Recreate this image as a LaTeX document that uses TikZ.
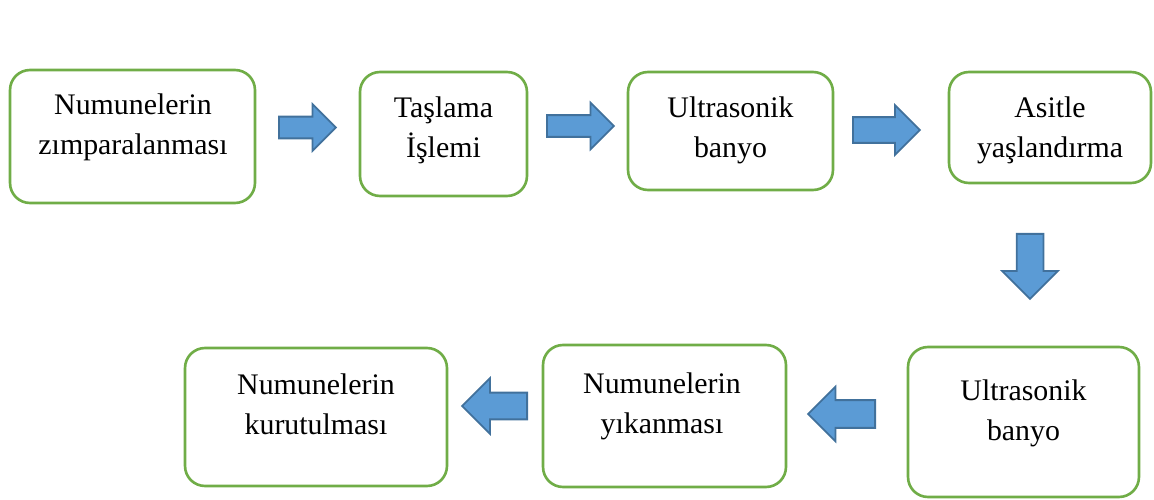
\documentclass[tikz,border=0pt]{standalone}
\usepackage{fontspec}
\setmainfont{Liberation Serif}
\usetikzlibrary{shapes.arrows}

\definecolor{kenar}{HTML}{70AD47}
\definecolor{okdolgu}{HTML}{5B9BD5}
\definecolor{okkenar}{HTML}{41719C}

\begin{document}
\begin{tikzpicture}
  [x=0.02cm,y=-0.02cm,every node/.style={inner sep=0pt}]

  \tikzstyle{kutu} = [draw=kenar,line width=1.5pt,rounded corners=0.4cm]
  \tikzstyle{yazi} = [align=center,font=\fontsize{17}{22.8}\selectfont]
  \tikzstyle{ok}   = [single arrow,single arrow head indent=0pt,anchor=tail,
                      fill=okdolgu,draw=okkenar,line width=1pt]

  \useasboundingbox (0,0) rectangle (1154,500);

  \node[kutu,minimum width=4.9cm,minimum height=2.66cm]  (1) at (132.5,136.5) {};
  \node[kutu,minimum width=3.34cm,minimum height=2.48cm] (2) at (443.5,134) {};
  \node[kutu,minimum width=4.1cm,minimum height=2.36cm]  (3) at (730.5,131) {};
  \node[kutu,minimum width=4.04cm,minimum height=2.22cm] (4) at (1050,127.5) {};
  \node[kutu,minimum width=4.62cm,minimum height=3.0cm]  (5) at (1023.5,422) {};
  \node[kutu,minimum width=4.86cm,minimum height=2.84cm] (6) at (664.5,416) {};
  \node[kutu,minimum width=5.24cm,minimum height=2.76cm] (7) at (316,417) {};

  \node[yazi] (t1) at (133,127.5)    {Numunelerin\\zımparalanması};
  \node[yazi] (t2) at (443.5,130.5)  {Taşlama\\İşlemi};
  \node[yazi] (t3) at (730.5,130)    {Ultrasonik\\banyo};
  \node[yazi] (t4) at (1050,130.5)   {Asitle\\yaşlandırma};
  \node[yazi] (t5) at (1023.5,413.5) {Ultrasonik\\banyo};
  \node[yazi] (t6) at (662,406.5)    {Numunelerin\\yıkanması};
  \node[yazi] (t7) at (316,404)      {Numunelerin\\kurutulması};

  \node[ok,inner sep=0.2cm,minimum height=1.14cm,minimum width=0.9cm,
        single arrow head extend=0.25cm]
       (a1) at (278,127.5) {};
  \node[ok,inner sep=0.2cm,minimum height=1.34cm,minimum width=0.9cm,
        single arrow head extend=0.25cm]
       (a2) at (546,126) {};
  \node[ok,inner sep=0.24cm,minimum height=1.34cm,minimum width=0.96cm,
        single arrow head extend=0.24cm]
       (a3) at (852,130) {};
  \node[ok,inner sep=0.25cm,minimum height=1.3cm,minimum width=1.08cm,
        single arrow head extend=0.29cm,shape border rotate=270]
       (a4) at (1030,233) {};
  \node[ok,inner sep=0.26cm,minimum height=1.34cm,minimum width=1.06cm,
        single arrow head extend=0.27cm,shape border rotate=180]
       (a5) at (876,414) {};
  \node[ok,inner sep=0.25cm,minimum height=1.3cm,minimum width=1.08cm,
        single arrow head extend=0.29cm,shape border rotate=180]
       (a6) at (528,406) {};
\end{tikzpicture}
\end{document}
